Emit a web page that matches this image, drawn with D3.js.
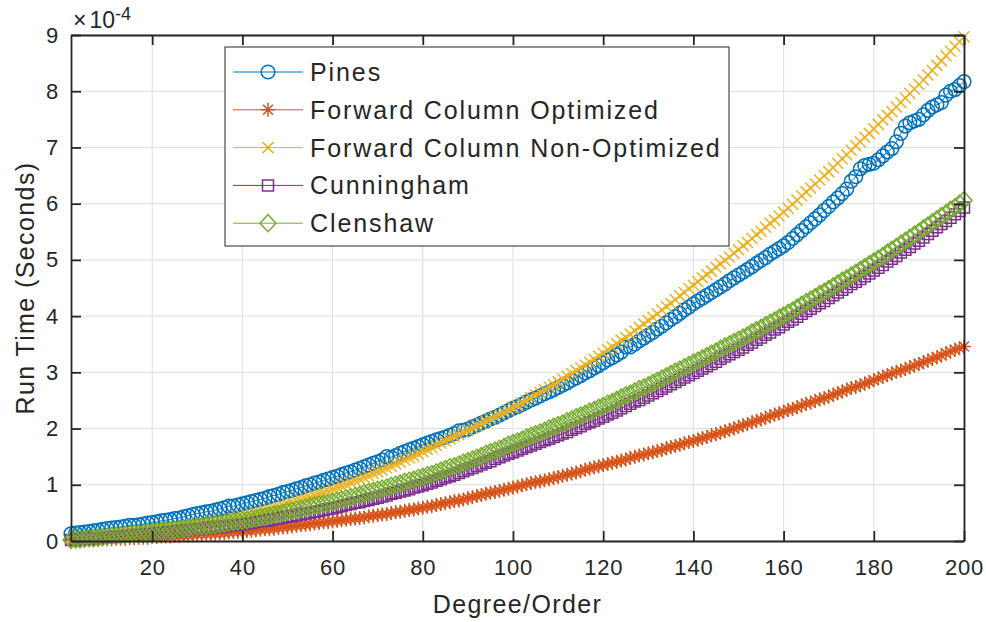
<!DOCTYPE html>
<html>
<head>
<meta charset="utf-8">
<script src="https://cdn.jsdelivr.net/npm/d3@7"></script>
<style>
    body { margin: 0; background: #fff; }
    svg text { font-family: "Liberation Sans", Arial, sans-serif; fill: #262626; }
</style>
</head>
<body>
<svg id="chart" width="986" height="622"></svg>
<script>
// degree/order of the expansion on the x axis
var degrees = d3.range(2, 201)
var xTicks = [20, 40, 60, 80, 100, 120, 140, 160, 180, 200]
var yTicks = [0, 1, 2, 3, 4, 5, 6, 7, 8, 9]

var seriesNames = ["Pines", "Forward Column Optimized", "Forward Column Non-Optimized", "Cunningham", "Clenshaw"]
var seriesColors = ["#0072BD", "#D95319", "#EDB120", "#7E2F8E", "#77AC30"]
var seriesMarkers = ["o", "*", "x", "s", "d"]

// run times, in units of 1e-4 seconds (degree 2..200)
var pines = [
    0.13,0.14,0.15,0.16,0.17,0.18,0.19,0.21,0.22,
    0.23,0.24,0.25,0.26,0.28,0.28,0.29,0.30,0.32,0.33,
    0.34,0.36,0.37,0.38,0.40,0.41,0.43,0.45,0.47,0.49,
    0.50,0.52,0.53,0.55,0.57,0.59,0.62,0.62,0.64,0.66,
    0.68,0.70,0.72,0.74,0.76,0.79,0.81,0.83,0.86,0.88,
    0.90,0.93,0.95,0.98,1.00,1.03,1.05,1.08,1.10,1.13,
    1.15,1.18,1.21,1.23,1.26,1.29,1.32,1.35,1.38,1.41,
    1.44,1.50,1.49,1.52,1.56,1.59,1.62,1.65,1.68,1.71,
    1.74,1.77,1.80,1.82,1.85,1.88,1.91,1.96,1.97,1.99,
    2.03,2.06,2.10,2.13,2.17,2.20,2.24,2.28,2.32,2.36,
    2.39,2.43,2.47,2.51,2.54,2.58,2.62,2.65,2.69,2.73,
    2.77,2.81,2.86,2.90,2.94,2.99,3.03,3.08,3.12,3.17,
    3.22,3.26,3.31,3.36,3.45,3.45,3.50,3.56,3.61,3.66,
    3.71,3.77,3.82,3.88,3.94,3.99,4.05,4.11,4.16,4.22,
    4.27,4.32,4.37,4.42,4.47,4.52,4.57,4.63,4.68,4.73,
    4.78,4.83,4.88,4.94,4.99,5.04,5.10,5.15,5.20,5.25,
    5.31,5.38,5.45,5.52,5.59,5.66,5.73,5.80,5.88,5.95,
    6.03,6.10,6.18,6.26,6.40,6.48,6.62,6.68,6.70,6.72,
    6.78,6.85,6.92,6.98,7.10,7.25,7.38,7.44,7.47,7.50,
    7.58,7.66,7.72,7.76,7.80,7.93,8.00,8.03,8.10,8.17
]
var fwdColOpt = [
    0.01,0.01,0.01,0.02,0.02,0.02,0.02,0.03,0.03,
    0.03,0.04,0.04,0.04,0.05,0.05,0.06,0.06,0.06,0.07,
    0.07,0.08,0.08,0.08,0.09,0.09,0.10,0.10,0.11,0.11,
    0.12,0.12,0.13,0.13,0.14,0.14,0.15,0.16,0.16,0.17,
    0.18,0.18,0.19,0.20,0.21,0.21,0.22,0.23,0.24,0.25,
    0.26,0.27,0.28,0.29,0.30,0.31,0.32,0.33,0.34,0.35,
    0.36,0.37,0.38,0.39,0.40,0.41,0.42,0.44,0.45,0.46,
    0.47,0.48,0.50,0.51,0.52,0.54,0.55,0.56,0.58,0.59,
    0.61,0.62,0.64,0.66,0.67,0.69,0.71,0.72,0.74,0.76,
    0.78,0.80,0.82,0.84,0.86,0.87,0.89,0.91,0.93,0.95,
    0.97,0.99,1.01,1.03,1.05,1.06,1.08,1.10,1.12,1.14,
    1.16,1.18,1.20,1.22,1.24,1.27,1.29,1.31,1.33,1.35,
    1.37,1.39,1.41,1.43,1.45,1.48,1.50,1.52,1.54,1.56,
    1.58,1.60,1.62,1.65,1.67,1.69,1.71,1.74,1.76,1.78,
    1.80,1.83,1.85,1.88,1.90,1.93,1.95,1.98,2.00,2.03,
    2.06,2.08,2.11,2.14,2.16,2.19,2.22,2.25,2.27,2.30,
    2.33,2.35,2.38,2.41,2.44,2.46,2.49,2.52,2.54,2.57,
    2.60,2.63,2.66,2.69,2.72,2.74,2.77,2.80,2.83,2.86,
    2.89,2.92,2.95,2.98,3.01,3.03,3.06,3.09,3.12,3.15,
    3.18,3.21,3.24,3.27,3.30,3.34,3.37,3.40,3.43,3.46
]
var fwdColNonOpt = [
    0.02,0.03,0.03,0.04,0.05,0.05,0.06,0.07,0.08,
    0.09,0.10,0.11,0.12,0.13,0.14,0.15,0.16,0.17,0.18,
    0.19,0.20,0.21,0.23,0.24,0.25,0.26,0.27,0.29,0.30,
    0.31,0.32,0.34,0.35,0.37,0.38,0.40,0.41,0.43,0.44,
    0.46,0.48,0.50,0.52,0.54,0.56,0.59,0.61,0.63,0.66,
    0.68,0.71,0.73,0.76,0.78,0.81,0.84,0.86,0.89,0.92,
    0.95,0.98,1.01,1.04,1.07,1.10,1.13,1.16,1.20,1.23,
    1.26,1.30,1.33,1.37,1.40,1.44,1.48,1.51,1.55,1.59,
    1.63,1.66,1.70,1.74,1.78,1.82,1.86,1.89,1.93,1.97,
    2.01,2.05,2.09,2.13,2.17,2.21,2.25,2.29,2.33,2.37,
    2.41,2.46,2.50,2.55,2.60,2.64,2.69,2.74,2.78,2.83,
    2.88,2.93,2.98,3.03,3.08,3.13,3.18,3.23,3.29,3.34,
    3.40,3.45,3.51,3.57,3.62,3.68,3.74,3.80,3.86,3.92,
    3.98,4.04,4.11,4.17,4.23,4.29,4.36,4.42,4.49,4.55,
    4.61,4.68,4.74,4.80,4.87,4.93,4.99,5.05,5.12,5.18,
    5.25,5.31,5.38,5.45,5.51,5.58,5.65,5.71,5.78,5.85,
    5.92,5.99,6.06,6.14,6.21,6.28,6.35,6.42,6.50,6.57,
    6.64,6.72,6.80,6.87,6.95,7.03,7.10,7.18,7.25,7.33,
    7.41,7.49,7.57,7.64,7.72,7.80,7.88,7.96,8.04,8.12,
    8.20,8.29,8.37,8.46,8.54,8.63,8.71,8.80,8.88,8.97
]
var cunningham = [
    0.02,0.03,0.03,0.04,0.04,0.05,0.05,0.06,0.07,
    0.07,0.08,0.08,0.09,0.10,0.10,0.11,0.12,0.12,0.13,
    0.14,0.15,0.15,0.16,0.17,0.18,0.19,0.19,0.20,0.21,
    0.22,0.23,0.24,0.25,0.25,0.26,0.27,0.28,0.29,0.30,
    0.31,0.32,0.34,0.35,0.36,0.37,0.39,0.40,0.42,0.43,
    0.44,0.46,0.47,0.49,0.50,0.52,0.53,0.55,0.57,0.58,
    0.60,0.62,0.64,0.66,0.68,0.69,0.71,0.73,0.75,0.77,
    0.79,0.81,0.84,0.86,0.88,0.90,0.92,0.95,0.97,0.99,
    1.02,1.04,1.07,1.10,1.13,1.15,1.18,1.21,1.24,1.27,
    1.30,1.33,1.36,1.39,1.42,1.46,1.49,1.52,1.55,1.58,
    1.61,1.64,1.67,1.70,1.73,1.76,1.79,1.82,1.85,1.88,
    1.91,1.94,1.98,2.01,2.04,2.08,2.11,2.14,2.18,2.21,
    2.25,2.28,2.32,2.36,2.40,2.44,2.48,2.51,2.55,2.59,
    2.63,2.67,2.71,2.75,2.79,2.83,2.87,2.91,2.95,2.99,
    3.03,3.07,3.11,3.15,3.19,3.24,3.28,3.32,3.36,3.40,
    3.44,3.49,3.53,3.58,3.62,3.67,3.71,3.76,3.80,3.85,
    3.90,3.94,3.99,4.04,4.09,4.13,4.18,4.23,4.27,4.32,
    4.37,4.42,4.47,4.52,4.57,4.61,4.66,4.71,4.76,4.81,
    4.86,4.91,4.97,5.02,5.07,5.13,5.18,5.23,5.29,5.34,
    5.40,5.46,5.52,5.58,5.64,5.69,5.75,5.81,5.87,5.93
]
var clenshaw = [
    0.02,0.03,0.03,0.04,0.05,0.05,0.06,0.07,0.08,
    0.09,0.09,0.10,0.11,0.12,0.13,0.13,0.14,0.15,0.16,
    0.17,0.18,0.19,0.19,0.20,0.21,0.22,0.23,0.24,0.25,
    0.26,0.27,0.28,0.29,0.30,0.31,0.32,0.34,0.35,0.36,
    0.37,0.39,0.40,0.42,0.43,0.45,0.47,0.48,0.50,0.52,
    0.54,0.55,0.57,0.59,0.61,0.63,0.65,0.66,0.68,0.70,
    0.72,0.74,0.76,0.78,0.80,0.82,0.85,0.87,0.89,0.91,
    0.93,0.95,0.98,1.00,1.02,1.05,1.07,1.09,1.12,1.14,
    1.17,1.19,1.22,1.25,1.28,1.31,1.33,1.36,1.39,1.42,
    1.45,1.48,1.51,1.55,1.58,1.61,1.64,1.67,1.71,1.74,
    1.77,1.80,1.84,1.87,1.90,1.93,1.96,2.00,2.03,2.06,
    2.09,2.13,2.16,2.20,2.23,2.26,2.30,2.33,2.37,2.40,
    2.44,2.47,2.51,2.55,2.59,2.62,2.66,2.70,2.73,2.77,
    2.81,2.85,2.89,2.93,2.97,3.01,3.05,3.09,3.13,3.17,
    3.21,3.25,3.29,3.33,3.37,3.42,3.46,3.50,3.54,3.58,
    3.62,3.66,3.71,3.75,3.79,3.84,3.88,3.92,3.97,4.01,
    4.06,4.10,4.15,4.20,4.25,4.29,4.34,4.39,4.43,4.48,
    4.53,4.58,4.63,4.67,4.72,4.77,4.82,4.87,4.92,4.97,
    5.02,5.07,5.13,5.18,5.23,5.29,5.34,5.39,5.45,5.50,
    5.56,5.61,5.67,5.72,5.78,5.83,5.89,5.94,6.00,6.06
]

var seriesValues = [pines, fwdColOpt, fwdColNonOpt, cunningham, clenshaw]

var svg = d3.select("#chart")
var plotLeft = 71, plotRight = 964, plotTop = 35, plotBottom = 541
var axisColor = "#262626"

var x = d3.scaleLinear().domain([2, 200]).range([plotLeft, plotRight])
var y = d3.scaleLinear().domain([0, 9]).range([plotBottom, plotTop])

// grid
var grid = svg.append("g")
grid.selectAll("line.gx")
    .data(xTicks)
    .enter()
    .append("line")
    .attr("x1", d => x(d)).attr("x2", d => x(d))
    .attr("y1", plotTop).attr("y2", plotBottom)
    .attr("stroke", "#dedede").attr("stroke-width", 1)
grid.selectAll("line.gy")
    .data(yTicks)
    .enter()
    .append("line")
    .attr("x1", plotLeft).attr("x2", plotRight)
    .attr("y1", d => y(d)).attr("y2", d => y(d))
    .attr("stroke", "#dedede").attr("stroke-width", 1)

// marker shapes, MATLAB-like
function markerPath(type) {
    if (type == "o") return d3.symbol().type(d3.symbolCircle).size(Math.PI * 6.8 * 6.8)()
    if (type == "s") return "M-5.5,-5.5H5.5V5.5H-5.5Z"
    if (type == "d") return "M0,-8.5L8,0L0,8.5L-8,0Z"
    if (type == "x") return "M-5.5,-5.5L5.5,5.5M-5.5,5.5L5.5,-5.5"
    if (type == "*") return "M0,-7V7M-7,0H7M-5,-5L5,5M-5,5L5,-5"
}

var line = d3.line()
    .x(d => x(d[0]))
    .y(d => y(d[1]))

var plot = svg.append("g")
seriesValues.forEach(function (vals, i) {
    var pts = degrees.map((d, j) => [d, vals[j]])
    var g = plot.append("g")
    g.append("path")
        .attr("d", line(pts))
        .attr("fill", "none")
        .attr("stroke", seriesColors[i])
        .attr("stroke-width", 1)
    g.selectAll("path.m")
        .data(pts)
        .enter()
        .append("path")
        .attr("class", "m")
        .attr("transform", d => "translate(" + x(d[0]) + "," + y(d[1]) + ")")
        .attr("d", markerPath(seriesMarkers[i]))
        .attr("fill", "none")
        .attr("stroke", seriesColors[i])
        .attr("stroke-width", 1.5)
})

// axes (ticks point inward, box on all sides)
function styleAxis(g) {
    g.selectAll("path.domain").attr("stroke", axisColor).attr("stroke-width", 1.8)
    g.selectAll(".tick line").attr("stroke", axisColor).attr("stroke-width", 1.8)
    g.selectAll(".tick text")
        .attr("fill", axisColor)
        .style("font-size", "22px")
        .style("letter-spacing", "0.8px")
        .style("font-family", "'Liberation Sans', Arial, sans-serif")
}

svg.append("g")
    .attr("transform", "translate(0," + plotBottom + ")")
    .call(d3.axisBottom(x).tickValues(xTicks).tickSizeInner(-10).tickSizeOuter(0).tickPadding(18))
    .call(styleAxis)
svg.append("g")
    .attr("transform", "translate(0," + plotTop + ")")
    .call(d3.axisTop(x).tickValues(xTicks).tickSizeInner(-10).tickSizeOuter(0).tickFormat(""))
    .call(styleAxis)
svg.append("g")
    .attr("transform", "translate(" + plotLeft + ",0)")
    .call(d3.axisLeft(y).tickValues(yTicks).tickSizeInner(-10).tickSizeOuter(0).tickPadding(12))
    .call(styleAxis)
svg.append("g")
    .attr("transform", "translate(" + plotRight + ",0)")
    .call(d3.axisRight(y).tickValues(yTicks).tickSizeInner(-10).tickSizeOuter(0).tickFormat(""))
    .call(styleAxis)

// exponent label
var expo = svg.append("text")
    .attr("x", 73)
    .attr("y", 28)
    .style("font-size", "23px")
expo.append("tspan").text("\u00d7")
expo.append("tspan").attr("dx", 3).text("10")
expo.append("tspan").attr("dy", -8).style("font-size", "18px").text("-4")

// axis labels
svg.append("text")
    .attr("x", (plotLeft + plotRight) / 2)
    .attr("y", 613)
    .attr("text-anchor", "middle")
    .style("font-size", "25px")
    .style("letter-spacing", "1.4px")
    .text("Degree/Order")

svg.append("text")
    .attr("transform", "translate(34," + ((plotTop + plotBottom) / 2) + ") rotate(-90)")
    .attr("text-anchor", "middle")
    .style("font-size", "25px")
    .style("letter-spacing", "1.4px")
    .text("Run Time (Seconds)")

// legend
var legend = svg.append("g")
legend.append("rect")
    .attr("x", 225).attr("y", 47)
    .attr("width", 504).attr("height", 199)
    .attr("fill", "#fff")
    .attr("stroke", axisColor)
    .attr("stroke-width", 1)

var rows = legend.selectAll("g.row")
    .data(seriesNames)
    .enter()
    .append("g")
    .attr("transform", (d, i) => "translate(0," + (72 + i * 37.8) + ")")

rows.append("line")
    .attr("x1", 233).attr("x2", 303)
    .attr("stroke", (d, i) => seriesColors[i])
    .attr("stroke-width", 1)
rows.append("path")
    .attr("transform", "translate(268,0)")
    .attr("d", (d, i) => markerPath(seriesMarkers[i]))
    .attr("fill", "none")
    .attr("stroke", (d, i) => seriesColors[i])
    .attr("stroke-width", 1.5)
rows.append("text")
    .attr("x", 310)
    .attr("y", 9)
    .style("font-size", "25px")
    .style("letter-spacing", "1.9px")
    .text(d => d)
</script>
</body>
</html>
